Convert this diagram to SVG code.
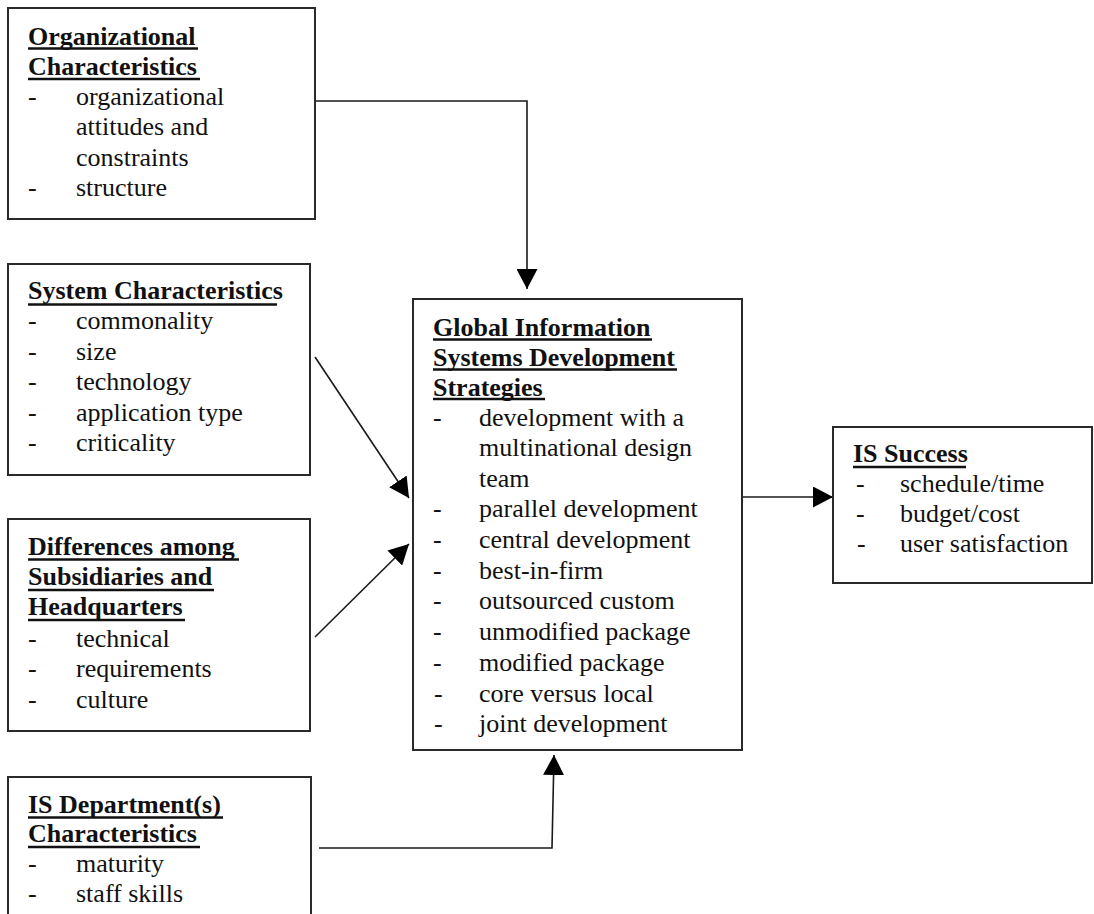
<svg xmlns="http://www.w3.org/2000/svg" width="1094" height="914" viewBox="0 0 1094 914">
<style>
.box{fill:#fff;stroke:#2a2a2a;stroke-width:2}
.t{font-family:"Liberation Serif","Times New Roman",serif;font-size:26px;fill:#111}
.h{font-weight:bold}
.ul{stroke:#111;stroke-width:2.5}
.c{fill:none;stroke:#1a1a1a;stroke-width:1.6}
</style>
<defs>
<marker id="ah" markerUnits="userSpaceOnUse" markerWidth="20" markerHeight="21" refX="20" refY="10.5" orient="auto" viewBox="0 0 20 21">
<path d="M0,0 L20,10.5 L0,21 z" fill="#000"/>
</marker>
</defs>
<rect width="1094" height="914" fill="#fff"/>

<g id="connectors">
<path class="c" d="M315,101 H527 V289" marker-end="url(#ah)"/>
<path class="c" d="M315,357 L409,498" marker-end="url(#ah)"/>
<path class="c" d="M315,637 L409,544" marker-end="url(#ah)"/>
<path class="c" d="M739,497 L833,497" marker-end="url(#ah)"/>
<path class="c" d="M319,848 H552 L554,755" marker-end="url(#ah)"/>
</g>

<g id="org">
<rect class="box" x="8" y="8" width="307" height="211"/>
<text class="t h" x="28" y="45">Organizational</text>
<line class="ul" x1="28" y1="48.5" x2="198" y2="48.5"/>
<text class="t h" x="28" y="75">Characteristics</text>
<line class="ul" x1="28" y1="79" x2="200" y2="79"/>
<text class="t" x="28" y="105">-</text><text class="t" x="76" y="105">organizational</text>
<text class="t" x="76" y="135">attitudes and</text>
<text class="t" x="76" y="166">constraints</text>
<text class="t" x="28" y="196">-</text><text class="t" x="76" y="196">structure</text>
</g>

<g id="sys">
<rect class="box" x="8" y="264" width="302" height="211"/>
<text class="t h" x="28" y="299">System Characteristics</text>
<line class="ul" x1="28" y1="304.5" x2="277" y2="304.5"/>
<text class="t" x="28" y="329">-</text><text class="t" x="76" y="329">commonality</text>
<text class="t" x="28" y="360">-</text><text class="t" x="76" y="360">size</text>
<text class="t" x="28" y="390">-</text><text class="t" x="76" y="390">technology</text>
<text class="t" x="28" y="421">-</text><text class="t" x="76" y="421">application type</text>
<text class="t" x="28" y="451">-</text><text class="t" x="76" y="451">criticality</text>
</g>

<g id="diff">
<rect class="box" x="8" y="519" width="302" height="212"/>
<text class="t h" x="28" y="555">Differences among</text>
<line class="ul" x1="28" y1="559.5" x2="239" y2="559.5"/>
<text class="t h" x="28" y="585">Subsidiaries and</text>
<line class="ul" x1="28" y1="590" x2="214" y2="590"/>
<text class="t h" x="28" y="615">Headquarters</text>
<line class="ul" x1="28" y1="620" x2="185" y2="620"/>
<text class="t" x="28" y="647">-</text><text class="t" x="76" y="647">technical</text>
<text class="t" x="28" y="677">-</text><text class="t" x="76" y="677">requirements</text>
<text class="t" x="28" y="708">-</text><text class="t" x="76" y="708">culture</text>
</g>

<g id="isdept">
<rect class="box" x="8" y="777" width="303" height="150"/>
<text class="t h" x="28" y="813">IS Department(s)</text>
<line class="ul" x1="28" y1="817.5" x2="223" y2="817.5"/>
<text class="t h" x="28" y="842">Characteristics</text>
<line class="ul" x1="28" y1="847" x2="200" y2="847"/>
<text class="t" x="28" y="872">-</text><text class="t" x="76" y="872">maturity</text>
<text class="t" x="28" y="902">-</text><text class="t" x="76" y="902">staff skills</text>
</g>

<g id="global">
<rect class="box" x="413" y="299" width="329" height="451"/>
<text class="t h" x="433" y="336">Global Information</text>
<line class="ul" x1="433" y1="339.5" x2="652" y2="339.5"/>
<text class="t h" x="433" y="366">Systems Development</text>
<line class="ul" x1="433" y1="369.5" x2="677" y2="369.5"/>
<text class="t h" x="433" y="396">Strategies</text>
<line class="ul" x1="433" y1="399" x2="545" y2="399"/>
<text class="t" x="433" y="426">-</text><text class="t" x="479" y="426">development with a</text>
<text class="t" x="479" y="456">multinational design</text>
<text class="t" x="479" y="487">team</text>
<text class="t" x="433" y="517">-</text><text class="t" x="479" y="517">parallel development</text>
<text class="t" x="433" y="548">-</text><text class="t" x="479" y="548">central development</text>
<text class="t" x="433" y="579">-</text><text class="t" x="479" y="579">best-in-firm</text>
<text class="t" x="433" y="609">-</text><text class="t" x="479" y="609">outsourced custom</text>
<text class="t" x="433" y="640">-</text><text class="t" x="479" y="640">unmodified package</text>
<text class="t" x="433" y="671">-</text><text class="t" x="479" y="671">modified package</text>
<text class="t" x="434" y="702">-</text><text class="t" x="479" y="702">core versus local</text>
<text class="t" x="434" y="732">-</text><text class="t" x="479" y="732">joint development</text>
</g>

<g id="success">
<rect class="box" x="833" y="427" width="259" height="156"/>
<text class="t h" x="853" y="462">IS Success</text>
<line class="ul" x1="853" y1="467" x2="966" y2="467"/>
<text class="t" x="856" y="492">-</text><text class="t" x="900" y="492">schedule/time</text>
<text class="t" x="856" y="522">-</text><text class="t" x="900" y="522">budget/cost</text>
<text class="t" x="857" y="552">-</text><text class="t" x="900" y="552">user satisfaction</text>
</g>
</svg>
